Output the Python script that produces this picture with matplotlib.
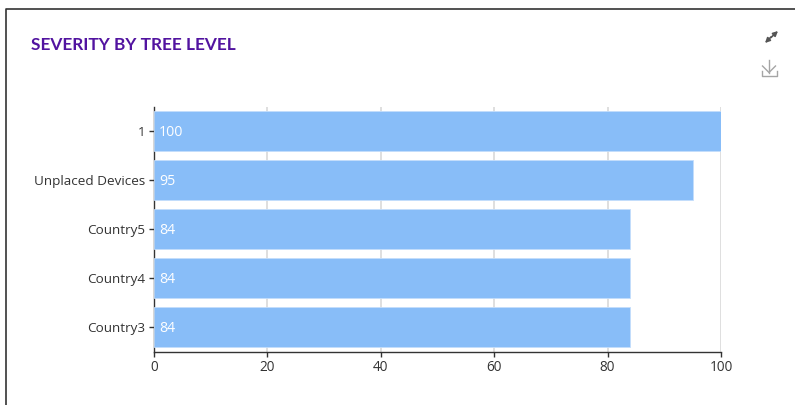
import matplotlib
matplotlib.use("Agg")
import matplotlib.pyplot as plt
from matplotlib.lines import Line2D
from matplotlib.transforms import ScaledTranslation

categories = ["1", "Unplaced Devices", "Country5", "Country4", "Country3"]
values = [100, 95, 84, 84, 84]
x_ticks = [0, 20, 40, 60, 80, 100]

W, H = 795, 406
plt.rcParams["font.family"] = ["Open Sans", "DejaVu Sans"]
fig = plt.figure(figsize=(W / 100, H / 100), dpi=100, facecolor="white")

L, R, T, B = 154, 721, 107.5, 352.5
ax = fig.add_axes([L / W, 1 - B / H, (R - L) / W, (B - T) / H])
pos = list(range(len(categories)))
ax.barh(pos, values, height=0.8, color="#88BDF8", edgecolor="#C4DEFB", linewidth=0.6, zorder=3)
ax.set_xlim(0, 100)
ax.set_ylim(len(categories) - 0.5, -0.5)
ax.set_xticks(x_ticks)
ax.set_yticks(pos)
ax.set_yticklabels(categories)
ax.grid(axis="x", color="#D9D9D9", linewidth=1.2, zorder=0)
ax.set_axisbelow(True)
for s in ("top", "right"):
    ax.spines[s].set_visible(False)
for s in ("left", "bottom"):
    ax.spines[s].set_color("#333333")
    ax.spines[s].set_linewidth(1.0)
ax.tick_params(axis="y", length=3.6, width=1, color="#333333", labelcolor="#333333", labelsize=9.7, pad=2.8)
ax.tick_params(axis="x", length=3.6, width=1, color="#333333", labelcolor="#333333", labelsize=9.8, pad=1.5)
up = ScaledTranslation(0, 1 / 100, fig.dpi_scale_trans)
for lab in ax.get_yticklabels():
    lab.set_transform(lab.get_transform() + up)
for i, v in zip(pos, values):
    ax.annotate(str(v), (0, i), xytext=(3.6, 1.2), textcoords="offset points", va="center_baseline", ha="left",
                color="white", fontsize=10.2, zorder=4)

# Overlay in pixel coordinates for card frame, title and icons
ov = fig.add_axes([0, 0, 1, 1], zorder=5)
ov.set_xlim(0, W)
ov.set_ylim(H, 0)
ov.axis("off")
ov.patch.set_alpha(0)
ov.add_line(Line2D([795, 6, 6], [9.5, 9.5, 406], color="#333333", lw=1.2))
ov.text(31, 44.5, "SEVERITY BY TREE LEVEL", color="#5214A0", fontsize=12.45, fontweight="bold",
        family=["Lato", "DejaVu Sans"], va="center", ha="left")
# expand icon
ov.annotate("", xy=(778, 32), xytext=(771, 38.5), arrowprops=dict(arrowstyle="-|>", color="#555555", lw=1.2, mutation_scale=7, shrinkA=0, shrinkB=0))
ov.annotate("", xy=(765, 44), xytext=(771, 38), arrowprops=dict(arrowstyle="-|>", color="#555555", lw=1.2, mutation_scale=7, shrinkA=0, shrinkB=0))
# download icon
c = "#A5A5A5"
ov.add_line(Line2D([769, 769], [61, 73.5], color=c, lw=1))
ov.add_line(Line2D([762.5, 769, 775.5], [67, 73.5, 67], color=c, lw=1))
ov.add_line(Line2D([761.5, 761.5, 776.5, 776.5], [72, 77, 77, 72], color=c, lw=1))

fig.savefig("out.png", dpi=100, facecolor="white")
